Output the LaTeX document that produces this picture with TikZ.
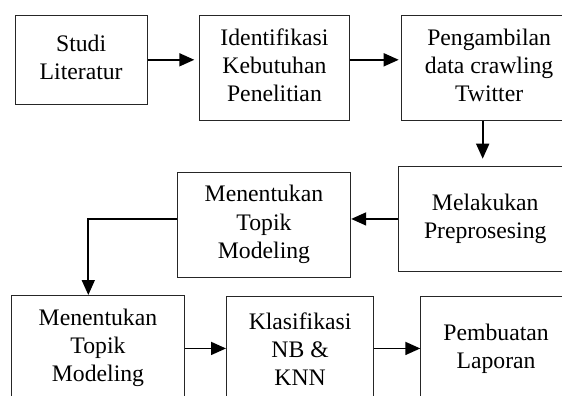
\documentclass[tikz,border=0pt]{standalone}
\usepackage{fontspec}
\setmainfont{Liberation Serif}
\usetikzlibrary{arrows.meta}

\newcommand{\linestrut}{\rule[-5.75pt]{0pt}{28pt}}

\begin{document}
\begin{tikzpicture}[x=1pt,y=-1pt]

    \tikzset{
      box/.style={
        draw=black!85,
        line width=0.9pt,
        anchor=north west,
        inner sep=0pt,
        align=center,
        font=\fontsize{23.7}{28}\selectfont,
        execute at begin node=\linestrut,
        execute at end node=\linestrut,
      },
      arrow/.style={
        line width=1.7pt,
        -{Triangle[length=15pt,width=13pt]},
      },
    }
    \useasboundingbox (0,0) rectangle (562,396);
    \clip (0,0) rectangle (562,396);

	\node[box, minimum width=132pt, minimum height=89.3pt] (studi) at (14.7,14.7) {Studi\\Literatur};
	\node[box, minimum width=150.6pt, minimum height=105.3pt] (ident) at (198.7,14.7) {Identifikasi\\Kebutuhan\\Penelitian};
	\node[box, minimum width=176pt, minimum height=105.3pt] (ambil) at (400.7,14.7) {Pengambilan\\data crawling\\Twitter};
	\node[box, minimum width=173.6pt, minimum height=105.6pt] (prepro) at (398,165.7) {Melakukan\\Preprosesing};
	\node[box, minimum width=173.6pt, minimum height=105pt] (topik) at (176.7,171.7) {Menentukan\\Topik\\Modeling};
	\node[box, minimum width=173.6pt, minimum height=106pt] (model) at (10.7,295) {Menentukan\\Topik\\Modeling};
	\node[box, minimum width=147.3pt, minimum height=110.6pt] (klas) at (226,296) {Klasifikasi\\NB \&\\KNN};
	\node[box, minimum width=150.7pt, minimum height=104.4pt] (lapor) at (420.3,296) {Pembuatan\\Laporan};

	\coordinate (turun) at (482.7,0);
	\coordinate (belok) at (88.3,0);

	\draw[arrow, shorten >=4.4pt] (studi.east) -- (ident.west |- studi.east);
	\draw[arrow, shorten >=2pt] (ident.east |- studi.east) -- (ambil.west |- studi.east);
	\draw[arrow, shorten >=7pt] (ambil.south -| turun) -- (prepro.north -| turun);
	\draw[arrow] (prepro.west) -- (topik.east |- prepro.west);
	\draw[arrow] (topik.west |- prepro.west) -| (model.north -| belok);
	\draw[arrow] (model.east) -- (klas.west |- model.east);
	\draw[arrow] (klas.east |- model.east) -- (lapor.west |- model.east);

\end{tikzpicture}
\end{document}
